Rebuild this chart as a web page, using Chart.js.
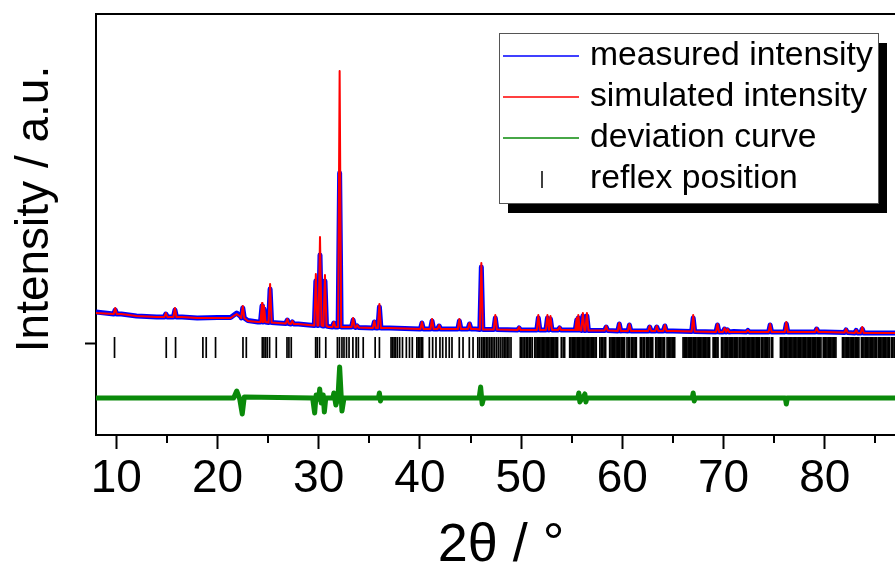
<!DOCTYPE html>
<html>
<head>
<meta charset="utf-8">
<script src="https://cdn.jsdelivr.net/npm/chart.js@4.4.1/dist/chart.umd.min.js"></script>
<style>
  html, body { margin: 0; padding: 0; background: #fff; overflow: hidden; }
</style>
</head>
<body>
<canvas id="xrd" width="960" height="562"></canvas>
<script>
// background nodes (2theta, intensity)
let bgPos  = [8, 10.5, 12, 14, 16.5, 18, 20, 21.3, 21.9, 22.3, 23, 24, 26, 28, 29, 31, 33, 37, 40, 45.5, 50, 55, 60, 65, 71, 75, 80, 85, 90];
let bgSim  = [300, 290, 270, 260, 260, 250, 250, 250, 290, 260, 220, 210, 200, 190, 180, 160, 160, 150, 140, 140, 130, 130, 120, 120, 110, 110, 110, 100, 100];
let bgMeas = [310, 290, 270, 260, 260, 250, 255, 255, 300, 265, 225, 210, 200, 190, 180, 165, 160, 150, 140, 140, 130, 130, 125, 120, 115, 110, 110, 100, 100];

// peaks
let peakPos  = [9.9, 14.9, 15.8, 22.5, 24.4, 24.6, 25.2, 26.9, 27.4, 29.72, 30.13, 30.62, 31.5, 32.07, 33.4, 33.8, 35.5, 36.0, 40.2, 41.2, 41.9, 43.9, 44.9, 46.07, 47.45, 49.8, 51.7, 52.6, 52.9, 53.8, 55.5, 55.65, 56.1, 56.5, 58.4, 59.7, 60.7, 62.7, 63.4, 64.2, 67.0, 69.4, 70.1, 70.4, 72.4, 74.6, 76.2, 79.2, 82.1, 83.1, 83.7];
let peakBase = [290, 260, 260, 250, 210, 210, 205, 195, 190, 175, 175, 170, 160, 160, 160, 155, 150, 150, 140, 140, 140, 140, 140, 135, 135, 130, 130, 130, 130, 130, 130, 130, 125, 125, 125, 120, 120, 120, 120, 120, 115, 110, 110, 110, 110, 110, 110, 110, 105, 100, 100];
let peakSim  = [350, 300, 350, 370, 400, 370, 590, 240, 220, 690, 1060, 680, 210, 2720, 250, 180, 220, 390, 210, 240, 180, 240, 200, 800, 280, 160, 280, 280, 270, 160, 250, 280, 300, 300, 170, 200, 190, 170, 170, 180, 280, 190, 150, 140, 130, 190, 210, 150, 140, 130, 160];
let peakMeas = [330, 290, 330, 350, 370, 340, 540, 230, 210, 620, 880, 620, 200, 1700, 230, 170, 210, 360, 200, 220, 170, 220, 190, 760, 250, 150, 250, 250, 240, 150, 230, 250, 270, 270, 160, 190, 180, 160, 160, 170, 250, 180, 140, 130, 125, 180, 190, 140, 130, 125, 140];

// difference curve
let devPos = [8, 21.6, 21.9, 22.2, 22.45, 22.65, 29.4, 29.6, 29.75, 30.0, 30.1, 30.25, 30.45, 30.56, 30.7, 31.4, 31.5, 31.7, 31.9, 32.07, 32.3, 32.5, 35.9, 36.0, 36.1, 36.2, 45.85, 46.0, 46.15, 46.3, 55.6, 55.7, 55.8, 56.3, 56.4, 56.5, 66.9, 67.0, 67.1, 67.2, 76.1, 76.2, 76.3, 90];
let devVal = [-550, -550, -480, -560, -710, -540, -550, -700, -520, -560, -460, -600, -520, -690, -550, -550, -500, -620, -550, -240, -680, -550, -550, -500, -580, -550, -550, -440, -610, -550, -550, -500, -590, -510, -590, -550, -550, -500, -580, -550, -550, -610, -550, -550];

// reflex positions
let reflexPos = [9.83, 14.94, 15.86, 18.56, 18.89, 19.81, 22.52, 22.85, 24.43, 24.59, 24.75, 24.92, 25.15, 25.81, 26.87, 27.06, 27.29,
  29.70, 29.85, 30.08, 30.70, 31.85, 32.05, 32.3, 32.5, 32.75, 33.0, 33.38, 33.7, 33.92, 34.4, 35.58, 36.0,
  37.15, 37.3, 37.45, 37.6, 37.78, 38.0, 38.28, 38.66, 38.97, 39.25, 39.7, 39.85, 40.0, 40.15, 40.27,
  40.93, 41.26, 41.59, 41.98, 42.25, 42.58, 42.9, 43.17, 43.89, 44.26, 44.88, 45.25,
  45.72, 45.9, 46.1, 46.25, 46.4, 46.56, 46.72, 46.89, 47.05, 47.22, 47.4, 47.6, 47.8, 48.0,
  48.2, 48.35, 48.5, 48.65, 48.8, 49.0, 49.92, 50.05, 50.19,
  50.35, 50.5, 50.65, 50.8, 50.95, 51.1,
  51.35, 51.47, 51.6, 51.72, 51.85, 51.97, 52.1, 52.22, 52.35, 52.47, 52.6, 52.72, 52.85, 52.97, 53.1, 53.22, 53.35, 53.47, 53.6,
  53.97, 54.15, 54.3,
  54.8, 54.92, 55.05, 55.17, 55.3, 55.42, 55.55, 55.67, 55.8, 55.92, 56.05, 56.17, 56.3, 56.42, 56.55, 56.67, 56.8, 56.92, 57.05, 57.17, 57.3, 57.42,
  57.78, 57.92, 58.06, 58.2, 58.35,
  58.75, 58.88, 59.0, 59.12, 59.25, 59.38, 59.5, 59.62, 59.75, 59.88, 60.0, 60.12, 60.22,
  60.46, 60.6, 60.72, 60.9, 61.02, 61.15, 61.27, 61.38, 61.78, 61.92, 62.06, 62.2,
  62.38, 62.5, 62.62, 62.75, 62.88, 63.0, 63.3, 63.42, 63.55, 63.67, 63.8, 63.92, 64.05, 64.17,
  64.42, 64.55, 64.67, 64.8, 64.92, 65.05, 65.17,
  66.0, 66.12, 66.25, 66.37, 66.5, 66.62, 66.75, 66.87, 67.0, 67.12, 67.25,
  67.38, 67.5, 67.62, 67.75, 67.87, 68.0, 68.12, 68.25, 68.37, 68.5, 68.62,
  68.97, 69.1, 69.22, 69.35, 69.45,
  69.8, 69.92, 70.05, 70.17, 70.3, 70.42, 70.55, 70.67, 70.8, 70.92, 71.05, 71.17, 71.3, 71.42,
  71.6, 71.72, 71.85, 71.97, 72.1, 72.22, 72.35, 72.47, 72.6, 72.72, 72.85, 72.97, 73.1, 73.22, 73.35, 73.47, 73.57,
  73.75, 73.87, 74.0, 74.12, 74.25, 74.37, 74.5, 74.72, 74.85,
  75.62, 75.75, 75.87, 76.0, 76.12, 76.25, 76.37, 76.5, 76.62, 76.75, 76.87, 77.0, 77.12, 77.25, 77.37, 77.5, 77.62, 77.75, 77.87,
  78.0, 78.12, 78.25, 78.37, 78.5, 78.62, 78.75, 78.87, 79.0, 79.12, 79.25, 79.37, 79.5, 79.62,
  79.85, 79.97, 80.1, 80.22, 80.35, 80.47, 80.6, 80.72, 80.85, 80.97, 81.1,
  81.75, 81.87, 82.0, 82.12, 82.25, 82.37, 82.5, 82.62, 82.75, 82.87, 83.0, 83.12, 83.25, 83.37,
  83.62, 83.75, 83.87, 84.0, 84.12, 84.25, 84.37, 84.5, 84.62, 84.75, 84.87, 85.0, 85.1,
  85.28, 85.4, 85.52, 85.65, 85.77, 85.9, 86.02, 86.15, 86.27, 86.4, 86.6, 86.72, 86.85, 86.97];
let reflexLevel = -45;

let xMajor = [10, 20, 30, 40, 50, 60, 70, 80, 90];
let xMinor = [15, 25, 35, 45, 55, 65, 75, 85];

const HW = 0.15; // half width of a peak in degrees

function profile(bg, tops) {
    let pts = bgPos.map((x, i) => ({x: x, y: bg[i]}));
    peakPos.forEach((p, i) => {
        pts.push({x: p - HW, y: peakBase[i]}, {x: p, y: tops[i]}, {x: p + HW, y: peakBase[i]});
    });
    return pts.sort((a, b) => a.x - b.x);
}

const SANS = '"Liberation Sans", Arial, sans-serif';

const frameAndText = {
    id: 'frameAndText',
    afterDraw(chart) {
        const ctx = chart.ctx, a = chart.chartArea, xs = chart.scales.x;
        ctx.save();
        // top border
        ctx.strokeStyle = '#000';
        ctx.lineWidth = 2;
        ctx.beginPath();
        ctx.moveTo(a.left - 1, a.top);
        ctx.lineTo(a.right, a.top);
        ctx.stroke();
        // minor ticks
        xMinor.forEach(v => {
            const px = Math.round(xs.getPixelForValue(v));
            ctx.beginPath();
            ctx.moveTo(px, a.bottom);
            ctx.lineTo(px, a.bottom + 8);
            ctx.stroke();
        });
        // axis titles
        ctx.fillStyle = '#000';
        ctx.textAlign = 'center';
        ctx.textBaseline = 'alphabetic';
        ctx.font = '54px ' + SANS;
        ctx.fillText('2\u03b8 / \u00b0', 501, 561);
        ctx.translate(48, 209);
        ctx.rotate(-Math.PI / 2);
        ctx.font = '46px ' + SANS;
        ctx.fillText('Intensity / a.u.', 0, 0);
        ctx.restore();

        // legend box with shadow
        const x0 = 499, y0 = 33, w = 379, h = 170;
        ctx.save();
        ctx.fillStyle = '#000';
        ctx.fillRect(x0 + 9, y0 + 10, w, h);
        ctx.fillStyle = '#fff';
        ctx.fillRect(x0, y0, w, h);
        ctx.strokeStyle = '#555';
        ctx.lineWidth = 1;
        ctx.strokeRect(x0 + 0.5, y0 + 0.5, w, h);
        ctx.font = '33.7px ' + SANS;
        ctx.textAlign = 'left';
        ctx.textBaseline = 'alphabetic';
        chart.data.datasets.forEach((ds, i) => {
            const base = y0 + 32 + i * 41;
            const mid = base - 9;
            if (ds.showLine === false) {
                ctx.strokeStyle = '#000';
                ctx.lineWidth = 1.5;
                ctx.beginPath();
                ctx.moveTo(x0 + 43, mid - 8);
                ctx.lineTo(x0 + 43, mid + 9);
                ctx.stroke();
            } else {
                ctx.strokeStyle = ds.borderColor;
                ctx.lineWidth = 1.5;
                ctx.beginPath();
                ctx.moveTo(x0 + 4, mid);
                ctx.lineTo(x0 + 80, mid);
                ctx.stroke();
            }
            ctx.fillStyle = '#000';
            ctx.fillText(ds.label, x0 + 91, base);
        });
        ctx.restore();
    }
};

let ctx = document.getElementById('xrd').getContext('2d');

let chart = new Chart(ctx, {
    type: 'line',
    data: {
        datasets: [
            {
                label: 'measured intensity',
                data: profile(bgMeas, peakMeas),
                borderColor: '#0000ff',
                borderWidth: 5,
                borderJoinStyle: 'round',
                pointRadius: 0,
                order: 2
            },
            {
                label: 'simulated intensity',
                data: profile(bgSim, peakSim),
                borderColor: '#ff0000',
                borderWidth: 2,
                borderJoinStyle: 'round',
                pointRadius: 0,
                order: 1
            },
            {
                label: 'deviation curve',
                data: devPos.map((x, i) => ({x: x, y: devVal[i]})),
                borderColor: '#0a8a0a',
                borderWidth: 5,
                borderJoinStyle: 'round',
                pointRadius: 0,
                order: 3
            },
            {
                label: 'reflex position',
                data: reflexPos.map(x => ({x: x, y: reflexLevel})),
                showLine: false,
                pointStyle: 'line',
                rotation: 90,
                pointRadius: 10.5,
                pointBorderWidth: 1.7,
                pointBorderColor: '#000',
                order: 4
            }
        ]
    },
    options: {
        responsive: false,
        animation: false,
        events: [],
        layout: { padding: { top: 14, right: 34, left: 0, bottom: 0 } },
        plugins: {
            legend: { display: false },
            tooltip: { enabled: false }
        },
        scales: {
            x: {
                type: 'linear',
                min: 8,
                max: 90,
                afterBuildTicks: s => { s.ticks = xMajor.map(v => ({value: v})); },
                afterFit: s => { s.height = 127; },
                ticks: {
                    color: '#000',
                    font: { family: SANS, size: 46 },
                    padding: 3,
                    maxRotation: 0,
                    autoSkip: false
                },
                grid: {
                    drawOnChartArea: false,
                    drawTicks: true,
                    tickLength: 14,
                    tickWidth: 2,
                    tickColor: '#000'
                },
                border: { display: true, color: '#000', width: 2 }
            },
            y: {
                min: -920,
                max: 3290,
                afterBuildTicks: s => { s.ticks = [{value: 0}]; },
                afterFit: s => { s.width = 96; },
                ticks: { display: false },
                grid: {
                    drawOnChartArea: false,
                    drawTicks: true,
                    tickLength: 11,
                    tickWidth: 2,
                    tickColor: '#000'
                },
                border: { display: true, color: '#000', width: 2 }
            }
        }
    },
    plugins: [frameAndText]
});
</script>
</body>
</html>
